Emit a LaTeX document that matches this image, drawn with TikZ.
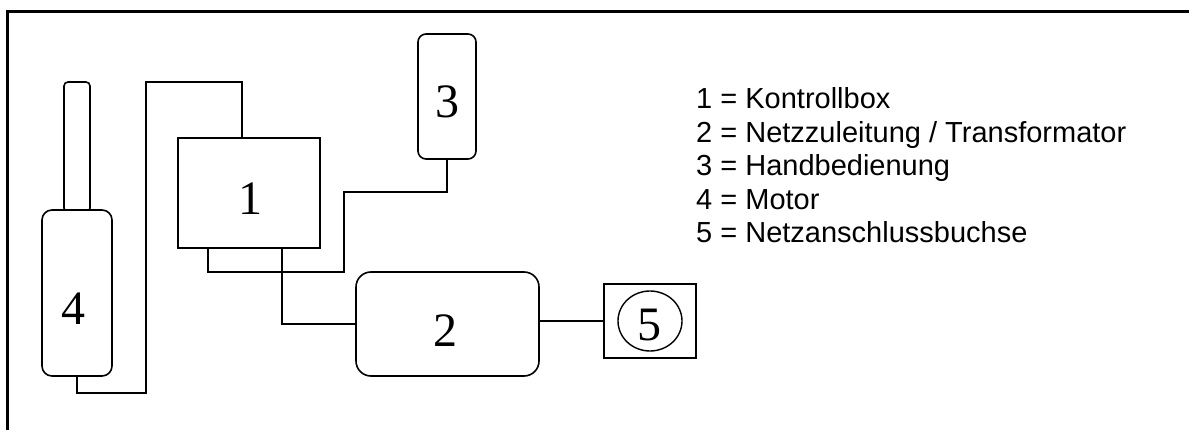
\documentclass[tikz,border=0pt]{standalone}
\usepackage{fontspec}
\setmainfont{Liberation Serif}
\newfontfamily\legendfont{Liberation Sans}
\begin{document}
\begin{tikzpicture}[x=1pt,y=-1pt,
  part/.style={draw,line width=1.6pt,inner sep=0pt},
  wire/.style={line width=1.6pt},
  digit/.style={anchor=base,inner sep=0pt,font=\fontsize{48}{48}\selectfont},
  legend/.style={anchor=base west,inner sep=0pt,font=\legendfont\fontsize{29}{33}\selectfont}]
\useasboundingbox (0,0) rectangle (1189,430);

% frame
\draw[line width=2.4pt] (7.5,430) -- (7.5,11.5) -- (1189,11.5);

% motor with rod
\node[part,rounded corners=4pt,minimum width=26pt,minimum height=130pt] (rod) at (77,147) {};
\node[part,fill=white,rounded corners=10pt,minimum width=70pt,minimum height=166pt] (motor) at (77,293) {};
% control box
\node[part,minimum width=142pt,minimum height=110pt] (box1) at (249,193) {};
% hand control
\node[part,rounded corners=8pt,minimum width=58pt,minimum height=125pt] (box3) at (447,96.5) {};
% power supply / transformer
\node[part,rounded corners=15pt,minimum width=183pt,minimum height=104pt] (box2) at (447.5,324) {};
% mains socket
\node[part,minimum width=92pt,minimum height=74pt] (box5) at (650,321) {};
\draw[line width=1.4pt] (box5.center) ellipse [x radius=32pt,y radius=30pt];

% numbers
\node[digit] (n1) at (250,215) {1};
\node[digit] (n2) at (445,346) {2};
\node[digit] (n3) at (447,118) {3};
\node[digit] (n4) at (73,325) {4};
\node[digit] (n5) at (649,341) {5};

% cables
\coordinate (w1) at (146,393);
\coordinate (w2) at (242,82);
\draw[wire] (motor.south) |- (w1) |- (w2) -- (w2 |- box1.north);

\coordinate (w3) at (208,272);
\coordinate (w4) at (344,192);
\draw[wire] (w3 |- box1.south) -- (w3) -| (w4) -| (box3.south);

\coordinate (w6) at (282,326);
\draw[wire] (w6 |- box1.south) |- (box2.west);

\draw[wire] (box2.east |- box5.west) -- (box5.west);

% legend
\node[legend] (l1) at (696,109)   {1 = Kontrollbox};
\node[legend] (l2) at (696,142.5) {2 = Netzzuleitung / Transformator};
\node[legend] (l3) at (696,176)   {3 = Handbedienung};
\node[legend] (l4) at (696,209.5) {4 = Motor};
\node[legend] (l5) at (696,243)   {5 = Netzanschlussbuchse};
\end{tikzpicture}
\end{document}
